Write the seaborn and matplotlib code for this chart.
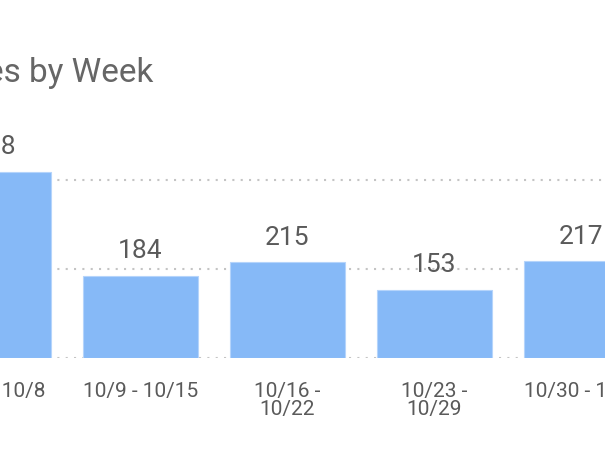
import seaborn as sns
import pandas as pd
from matplotlib import pyplot as plt

weeks = ['10/2 - 10/8', '10/9 - 10/15', '10/16 -\n10/22', '10/23 -\n10/29', '10/30 - 11/5']
counts = [418, 184, 215, 153, 217]
title = 'Sales by Week'

bar_color = '#86b9f7'
text_color = '#5a5a5a'

df = pd.DataFrame({'week': weeks, 'count': counts})

sns.set_style('white')
plt.rcParams['font.family'] = ['Roboto', 'DejaVu Sans']

W, H = 605, 454
fig = plt.figure(figsize=(W / 100, H / 100), dpi=100)

# axes runs past the figure edges, like the cropped reference
pitch = 147
first_center = -6.5
left_px = first_center - 0.5 * pitch
base_px = 358
px_per_unit = 0.446
ymax = 480
ax = fig.add_axes([left_px / W, (H - base_px) / H,
                   len(weeks) * pitch / W, ymax * px_per_unit / H])

sns.barplot(data=df, x='week', y='count', color=bar_color, width=0.776,
            saturation=1, edgecolor='#b5d4fb', linewidth=0.8, ax=ax)

ax.set_xlim(-0.5, len(weeks) - 0.5)
ax.set_ylim(0, ymax)
ax.set_axisbelow(True)
ax.set_yticks([0, 200, 400])
ax.yaxis.grid(True, color='#c4c4c4', linestyle=(0, (1, 3)), linewidth=1.5)
ax.xaxis.grid(False)
ax.set_yticklabels([])
ax.tick_params(axis='y', length=0)
ax.tick_params(axis='x', length=0, pad=17, labelsize=15, labelcolor=text_color)
for lbl in ax.get_xticklabels():
    lbl.set_linespacing(0.95)
ax.set_xlabel('')
ax.set_ylabel('')
for s in ax.spines.values():
    s.set_visible(False)

for i, v in enumerate(counts):
    ax.annotate(str(v), (i, v), xytext=(0, 9), textcoords='offset points',
                ha='center', va='bottom', fontsize=19, color=text_color,
                annotation_clip=False)

fig.text(153 / W, 1 - 82 / H, title, ha='right', va='baseline',
         fontsize=24, color='#666666')

fig.savefig('out.png', dpi=100)
